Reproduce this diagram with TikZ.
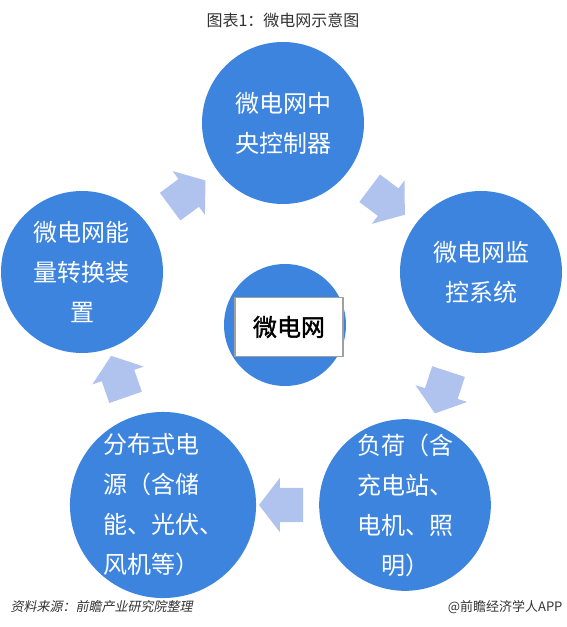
\documentclass[tikz,border=0pt]{standalone}
\usepackage{fontspec}
\usepackage{tikz}
\usetikzlibrary{positioning,calc,shapes.arrows}
\setmainfont{Noto Sans CJK SC}
\newfontfamily\cjkslant[FakeSlant=0.2]{Noto Sans CJK SC}
\newfontfamily\cjkbold[FakeBold=1.5]{Noto Sans CJK SC}
\definecolor{unitblue}{HTML}{3D84DF}
\definecolor{flowblue}{HTML}{AFC3EE}
\definecolor{inkgray}{HTML}{333333}
\definecolor{boxgray}{HTML}{A0A0A0}

\begin{document}
\begin{tikzpicture}[
    x=1pt, y=-1pt,
    unit/.style={circle, fill=unitblue, minimum size=162pt, inner sep=0pt, text=white, align=center, font=\fontsize{24}{40}\selectfont},
    hub/.style={circle, fill=unitblue, minimum size=122pt, inner sep=0pt},
    corebox/.style={draw=boxgray, line width=1.2pt, fill=white, minimum width=108pt, minimum height=59pt, font=\cjkbold\fontsize{24}{28}\selectfont},
    flow/.style={single arrow, fill=flowblue, minimum height=44pt, inner xsep=0pt, inner ysep=17pt, single arrow head extend=10pt, single arrow tip angle=105, sloped, allow upside down},
    titletext/.style={text=inkgray, font=\fontsize{16}{18}\selectfont},
    sourcetext/.style={text=inkgray, font=\fontsize{13}{15}\selectfont}
]
\useasboundingbox (0,0) rectangle (567,627);

% Title
\node[titletext] (title) at (283,20) {图表1：微电网示意图};

% Define node positions
\node[unit] (ctrl) at (283,123) {微电网中\\央控制器};
\node[unit] (monitor) at (481,272) {微电网监\\控系统};
\node[unit] (load) at (405,505) {负荷（含\\充电站、\\电机、照\\明）};
\node[unit, align=left] (source) at (163,505) {分布式电\\源（含储\\能、光伏、\\风机等）};
\node[unit] (conv) at (82,272) {微电网能\\量转换装\\置};

% Centre of the cycle
\node[hub] (hub) at (285,325) {};
\node[corebox] (core) at (289,327) {微电网};

% Draw flow arrows between the units
\path (conv) -- (ctrl) node[flow, midway] {};
\path (ctrl) -- (monitor) node[flow, midway] {};
\path (monitor) -- (load) node[flow, midway] {};
\path (load) -- (source) node[flow, midway] {};
\path (source) -- (conv) node[flow, midway] {};

% Source notes
\node[sourcetext, anchor=west] (note) at (7,607) {\cjkslant 资料来源：前瞻产业研究院整理};
\node[sourcetext, anchor=east] (brand) at (566,607) {@前瞻经济学人APP};

\end{tikzpicture}
\end{document}
